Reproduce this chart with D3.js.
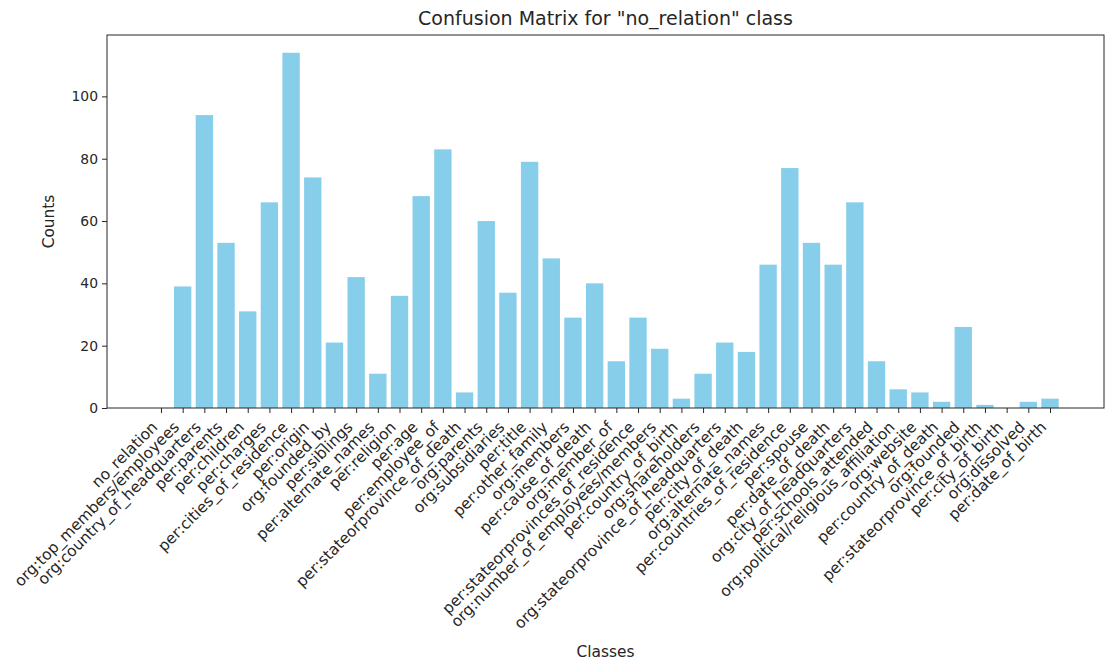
<!DOCTYPE html>
<html><head><meta charset="utf-8">
<script src="https://cdn.jsdelivr.net/npm/d3@7"></script>
<style>body{margin:0;background:#fff}</style>
</head><body>
<svg id="c" width="1105" height="664"></svg>
<script>
const categories = ["no_relation","org:top_members/employees","org:country_of_headquarters","per:parents","per:children","per:charges","per:cities_of_residence","per:origin","org:founded_by","per:siblings","per:alternate_names","per:religion","per:age","per:employee_of","per:stateorprovince_of_death","org:parents","org:subsidiaries","per:title","per:other_family","org:members","per:cause_of_death","org:member_of","per:stateorprovinces_of_residence","org:number_of_employees/members","per:country_of_birth","org:shareholders","org:stateorprovince_of_headquarters","per:city_of_death","org:alternate_names","per:countries_of_residence","per:spouse","per:date_of_death","org:city_of_headquarters","per:schools_attended","org:political/religious_affiliation","org:website","per:country_of_death","org:founded","per:stateorprovince_of_birth","per:city_of_birth","org:dissolved","per:date_of_birth"];
const counts = [0,39,94,53,31,66,114,74,21,42,11,36,68,83,5,60,37,79,48,29,40,15,29,19,3,11,21,18,46,77,53,46,66,15,6,5,2,26,1,0,2,3];
const yTicks = [0,20,40,60,80,100];
const title = 'Confusion Matrix for "no_relation" class';

const svg = d3.select("#c");
const L = 107, R = 1104, T = 35, B = 408;
const n = categories.length;
const pad = (n - 1 + 0.8) * 0.05;
const x = d3.scaleLinear().domain([-0.4 - pad, n - 1 + 0.4 + pad]).range([L, R]);
const ymax = d3.max(counts) * 1.05;
const y = d3.scaleLinear().domain([0, ymax]).range([B, T]);
const font = "DejaVu Sans, sans-serif";

svg.append("g").selectAll("rect").data(counts).join("rect")
  .attr("x", (d,i) => x(i - 0.4))
  .attr("width", x(0.8) - x(0))
  .attr("y", d => y(d))
  .attr("height", d => y(0) - y(d))
  .attr("fill", "#87ceeb");

// y axis
const ya = svg.append("g").attr("transform", `translate(${L},0)`)
  .call(d3.axisLeft(y).tickValues(yTicks).tickSize(5).tickPadding(4).tickFormat(d3.format("d")));
ya.select(".domain").remove();
ya.selectAll("text").attr("font-family", font).attr("font-size", 13.9).attr("fill", "#262626");
ya.selectAll("line").attr("stroke", "#262626").attr("stroke-width", 1);

// x axis
const xa = svg.append("g").attr("transform", `translate(0,${B})`)
  .call(d3.axisBottom(x).tickValues(d3.range(n)).tickSize(5).tickFormat(i => categories[i]));
xa.select(".domain").remove();
xa.selectAll("line").attr("stroke", "#262626").attr("stroke-width", 1);
xa.selectAll("text")
  .attr("font-family", font).attr("font-size", 15.4).attr("fill", "#262626")
  .attr("text-anchor", "end")
  .attr("y", 0).attr("dy", 0)
  .attr("transform", "translate(-3,20) rotate(-45)");

// frame
svg.append("rect").attr("x", L).attr("y", T).attr("width", R - L).attr("height", B - T)
  .attr("fill", "none").attr("stroke", "#262626").attr("stroke-width", 1);

svg.append("text").attr("x", (L + R) / 2).attr("y", 25).attr("text-anchor", "middle")
  .attr("font-family", font).attr("font-size", 19).attr("fill", "#262626").text(title);
svg.append("text").attr("transform", `translate(54,${(T + B) / 2}) rotate(-90)`).attr("text-anchor", "middle")
  .attr("font-family", font).attr("font-size", 15.4).attr("fill", "#262626").text("Counts");
svg.append("text").attr("x", (L + R) / 2).attr("y", 657).attr("text-anchor", "middle")
  .attr("font-family", font).attr("font-size", 15.4).attr("fill", "#262626").text("Classes");
</script>
</body></html>
